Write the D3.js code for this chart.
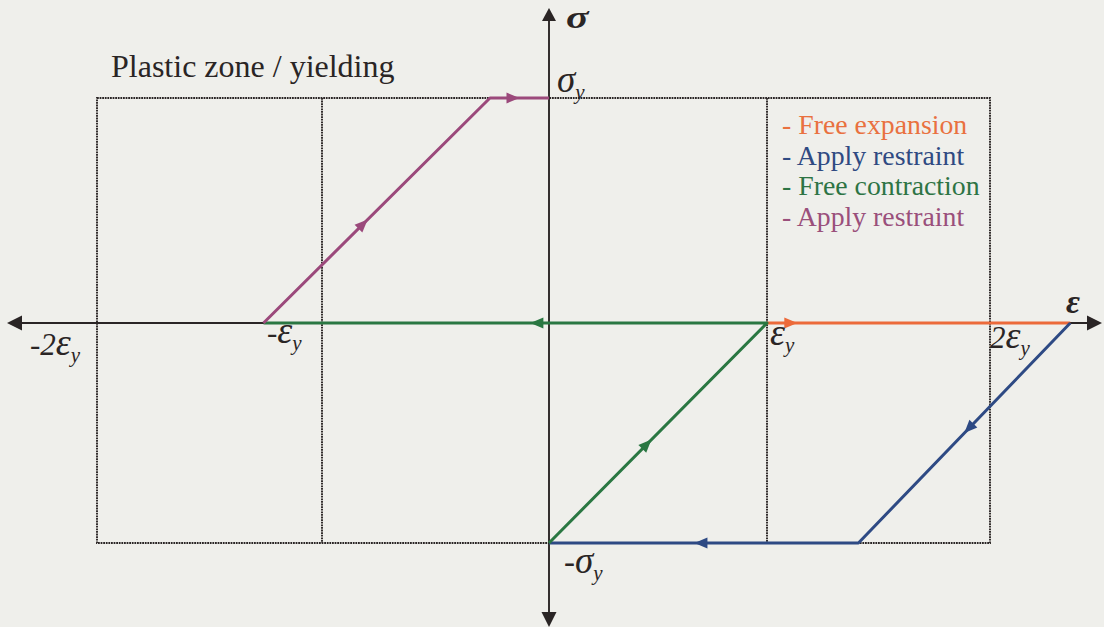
<!DOCTYPE html>
<html>
<head>
<meta charset="utf-8">
<script src="https://cdn.jsdelivr.net/npm/d3@7"></script>
<style>
  html, body { margin: 0; padding: 0; background: #efefeb; }
  svg { display: block; }
</style>
</head>
<body>
<svg id="chart" width="1104" height="627"></svg>
<script>
// Strain knots (multiples of the yield strain) and their tick labels
const strainKnots = [-2, -1, 0, 1, 2];
const strainTicks = [-2, -1, 1, 2];
const strainTickLabels = ["-2", "-", "", "2"];
// Stress knots (multiples of the yield stress)
const stressKnots = [-1, 0, 1];
const stressTicks = [1, -1];
const stressTickLabels = ["", "-"];

// Loading path, one array per stage: [strain, stress]
const freeExpansion   = [[1, 0], [2.36, 0]];
const applyRestraintA = [[2.36, 0], [1.41, -1], [0, -1]];
const freeContraction = [[0, -1], [1, 0], [-1.26, 0]];
const applyRestraintB = [[-1.26, 0], [-0.26, 1], [0, 1]];

// Direction arrows: fraction along each segment of the stage
const freeExpansionArrows   = [0.1];
const applyRestraintAArrows = [0.5, 0.53];
const freeContractionArrows = [0.47, 0.47];
const applyRestraintBArrows = [0.46, 0.5];

const legendLabels = ["- Free expansion", "- Apply restraint", "- Free contraction", "- Apply restraint"];
const stageColors = ["#ec6a3a", "#2e4a84", "#2a7742", "#9b497b"];
const legendColors = ["#e9713f", "#2f4a82", "#2d7444", "#9a4f7b"];

const stages = [
  { pts: freeExpansion, arrows: freeExpansionArrows },
  { pts: applyRestraintA, arrows: applyRestraintAArrows },
  { pts: freeContraction, arrows: freeContractionArrows },
  { pts: applyRestraintB, arrows: applyRestraintBArrows }
];

const FONT = "Liberation Serif";
const svg = d3.select("#chart");

// Hand-set knot positions of the sketch
const x = d3.scaleLinear().domain(strainKnots).range([97, 322, 549, 767, 990]);
const y = d3.scaleLinear().domain(stressKnots).range([543, 323, 98]);

const ink = "#2a2525";

function label(px, py, size) {
  return svg.append("text").attr("x", px).attr("y", py)
    .attr("font-family", FONT).attr("font-size", size);
}

// Dotted guide box and inner verticals
const dotted = svg.append("g")
  .attr("fill", "none").attr("stroke", ink).attr("stroke-width", 1.9)
  .attr("stroke-dasharray", "1.8,0.8");
dotted.append("rect")
  .attr("x", x(-2)).attr("y", y(1))
  .attr("width", x(2) - x(-2)).attr("height", y(-1) - y(1));
[-1, 1].forEach(v => {
  dotted.append("line")
    .attr("x1", x(v)).attr("x2", x(v))
    .attr("y1", y(1)).attr("y2", y(-1));
});

// Axes with arrowheads at both ends
const axes = svg.append("g");
const x0 = x(0), y0 = y(0);
const xLeft = 7, xRight = 1102, yTop = 8, yBottom = 627;
axes.append("line").attr("x1", xLeft + 8).attr("x2", xRight - 8)
  .attr("y1", y0).attr("y2", y0).attr("stroke", ink).attr("stroke-width", 2.2);
axes.append("line").attr("x1", x0).attr("x2", x0)
  .attr("y1", yTop + 8).attr("y2", yBottom - 8).attr("stroke", ink).attr("stroke-width", 1.9);

function headPath(tx, ty, angle, len, half) {
  const c = Math.cos(angle), s = Math.sin(angle);
  const bx = tx - c * len, by = ty - s * len;
  return `M${tx},${ty}L${bx - s * half},${by + c * half}L${bx + s * half},${by - c * half}Z`;
}
axes.append("path").attr("d", headPath(xRight, y0, 0, 15, 7.5)).attr("fill", ink);
axes.append("path").attr("d", headPath(xLeft, y0, Math.PI, 15, 7.5)).attr("fill", ink);
axes.append("path").attr("d", headPath(x0, yTop, -Math.PI / 2, 13, 7)).attr("fill", ink);
axes.append("path").attr("d", headPath(x0, yBottom, Math.PI / 2, 15, 7.5)).attr("fill", ink);

// Stage paths
const line = d3.line().x(d => x(d[0])).y(d => y(d[1]));
const paths = svg.append("g");
stages.forEach((st, i) => {
  paths.append("path")
    .attr("d", line(st.pts))
    .attr("fill", "none")
    .attr("stroke", stageColors[i])
    .attr("stroke-width", 3)
    .attr("stroke-linejoin", "round");
  st.arrows.forEach((t, k) => {
    const a = st.pts[k], b = st.pts[k + 1];
    const ax = x(a[0]), ay = y(a[1]), bx = x(b[0]), by = y(b[1]);
    const px = ax + (bx - ax) * t, py = ay + (by - ay) * t;
    const ang = Math.atan2(by - ay, bx - ax);
    paths.append("path")
      .attr("d", headPath(px, py, ang, 13, 5.5))
      .attr("fill", stageColors[i]);
  });
});

// Axis titles (sigma widened horizontally to keep it inside the top edge)
svg.append("text")
  .attr("transform", `translate(${x0 + 17},28) scale(1.35,1)`)
  .attr("font-family", FONT).attr("font-size", 31)
  .attr("font-style", "italic").attr("font-weight", "bold")
  .attr("fill", ink).text("σ");
label(1066, 313, 34).attr("font-style", "italic").attr("font-weight", "bold")
  .attr("fill", ink).text("ε");

// Strain tick labels below the axis
const strainLabelPos = { "-2": [30, 355], "-1": [267, 343], "1": [770, 345], "2": [990, 348] };
strainTicks.forEach((v, i) => {
  const p = strainLabelPos[String(v)];
  const t = label(p[0], p[1], 31).attr("font-style", "italic").attr("fill", ink);
  t.append("tspan").text(strainTickLabels[i]);
  t.append("tspan").attr("font-size", 38).text("ε");
  t.append("tspan").attr("font-size", 21).attr("dy", 7).text("y");
});

// Stress tick labels beside the axis
const stressLabelPos = { "1": [557, 92], "-1": [564, 573] };
stressTicks.forEach((v, i) => {
  const p = stressLabelPos[String(v)];
  const t = label(p[0], p[1], 33).attr("font-style", "italic").attr("fill", ink);
  t.append("tspan").text(stressTickLabels[i]);
  t.append("tspan").attr("font-size", 37).text("σ");
  t.append("tspan").attr("font-size", 21).attr("dy", 7).text("y");
});

// Zone caption
label(111, 77, 32).attr("fill", ink).text("Plastic zone / yielding");

// Legend
legendLabels.forEach((s, i) => {
  label(782, 134 + i * 30.5, 27.8).attr("fill", legendColors[i]).text(s);
});
</script>
</body>
</html>
